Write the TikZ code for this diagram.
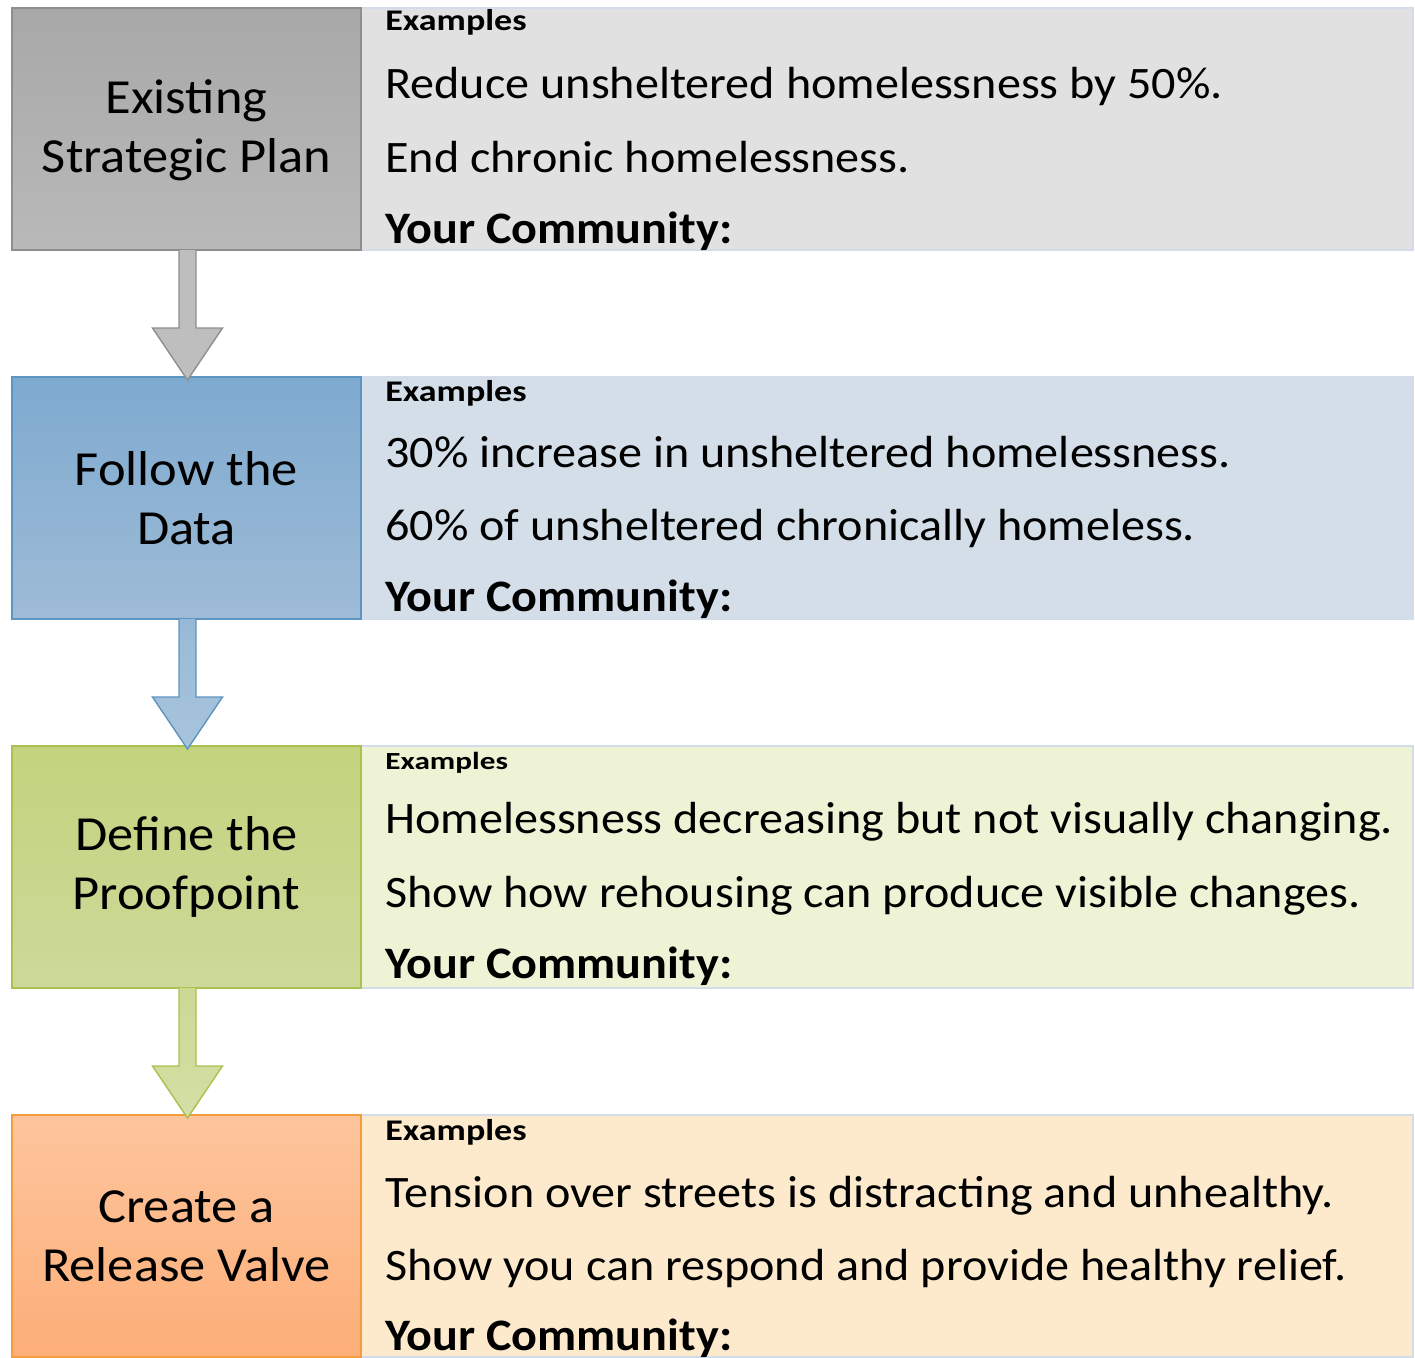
\documentclass[tikz,border=0pt]{standalone}
\usepackage{fontspec}
\setmainfont{Carlito}[FakeStretch=1.07]
\newfontfamily\exfont{Carlito}[FakeStretch=1.2]
\newfontfamily\exfontwide{Carlito}[FakeStretch=1.27]
\usetikzlibrary{calc}

% step colours
\definecolor{grayTop}{HTML}{A8A8A8}
\definecolor{grayBot}{HTML}{B9B9B9}
\definecolor{grayLine}{HTML}{8E8E8E}
\definecolor{grayArrow}{HTML}{BEBEBE}
\definecolor{grayPanel}{HTML}{E1E1E1}
\definecolor{blueTop}{HTML}{7EAACF}
\definecolor{blueBot}{HTML}{9EBBD7}
\definecolor{blueLine}{HTML}{5C95C2}
\definecolor{blueArrowTop}{HTML}{98B9D6}
\definecolor{blueArrowBot}{HTML}{A8C4DD}
\definecolor{bluePanel}{HTML}{D3DEE8}
\definecolor{greenTop}{HTML}{C3D37D}
\definecolor{greenBot}{HTML}{CDD99A}
\definecolor{greenLine}{HTML}{A9C14E}
\definecolor{greenArrowTop}{HTML}{CCD994}
\definecolor{greenArrowBot}{HTML}{D3DFA5}
\definecolor{greenPanel}{HTML}{EFF3D5}
\definecolor{orangeTop}{HTML}{FEC59D}
\definecolor{orangeBot}{HTML}{FCAE78}
\definecolor{orangeLine}{HTML}{F59D3E}
\definecolor{orangePanel}{HTML}{FDEACD}
\definecolor{panelLine}{HTML}{D3DCE8}

\tikzset{
  stepbox/.style={anchor=north west, inner sep=0pt, outer sep=0pt,
    minimum width=174.5pt, minimum height=121pt, line width=0.7pt, draw},
  panel/.style={anchor=north west, inner sep=0pt, outer sep=0pt,
    minimum width=526pt, minimum height=121pt, line width=0.9pt, draw=panelLine},
  steplabel/.style={align=center, inner sep=0pt,
    font=\fontsize{24.5}{29.5}\selectfont},
  exhead/.style={anchor=base west, inner sep=0pt,
    font=\exfont\bfseries\fontsize{15}{18}\selectfont},
  exheadsmall/.style={anchor=base west, inner sep=0pt,
    font=\exfontwide\bfseries\fontsize{12.3}{15}\selectfont},
  exline/.style={anchor=base west, inner sep=0pt,
    font=\fontsize{22.5}{27}\selectfont},
  yourline/.style={anchor=base west, inner sep=0pt,
    font=\bfseries\fontsize{22.5}{27}\selectfont},
  flow/.style={line width=0.7pt, line join=miter},
}

\begin{document}
\begin{tikzpicture}[x=0.5pt, y=-0.5pt]
\useasboundingbox (0,0) rectangle (1415,1357);

% ---- row 1 ----
\node[panel, fill=grayPanel] (R1) at (361,8) {};
\node[stepbox, draw=grayLine, top color=grayTop, bottom color=grayBot] (L1) at (12,8) {};
\node[steplabel] (T1) at ($(L1.center)+(0,1)$) {Existing\\Strategic Plan};
\node[exhead] (E1) at (385,30) {Examples};
\node[exline] (A1) at (385,98) {Reduce unsheltered homelessness by 50\%.};
\node[exline] (B1) at (385,172) {End chronic homelessness.};
\node[yourline] (C1) at (385,243) {Your Community:};

% ---- row 2 ----
\node[panel, fill=bluePanel] (R2) at (361,377) {};
\node[stepbox, draw=blueLine, top color=blueTop, bottom color=blueBot] (L2) at (12,377) {};
\node[steplabel] (T2) at ($(L2.center)+(0,0)$) {Follow the\\Data};
\node[exhead] (E2) at (385,401) {Examples};
\node[exline] (A2) at (385,467) {30\% increase in unsheltered homelessness.};
\node[exline] (B2) at (385,540) {60\% of unsheltered chronically homeless.};
\node[yourline] (C2) at (385,611) {Your Community:};

% ---- row 3 ----
\node[panel, fill=greenPanel] (R3) at (361,746) {};
\node[stepbox, draw=greenLine, top color=greenTop, bottom color=greenBot] (L3) at (12,746) {};
\node[steplabel] (T3) at ($(L3.center)+(0,0)$) {Define the\\Proofpoint};
\node[exheadsmall] (E3) at (385,769) {Examples};
\node[exline] (A3) at (385,833) {Homelessness decreasing but not visually changing.};
\node[exline] (B3) at (385,907) {Show how rehousing can produce visible changes.};
\node[yourline] (C3) at (385,978) {Your Community:};

% ---- row 4 ----
\node[panel, fill=orangePanel] (R4) at (361,1115) {};
\node[stepbox, draw=orangeLine, top color=orangeTop, bottom color=orangeBot] (L4) at (12,1115) {};
\node[steplabel] (T4) at ($(L4.center)+(0,0)$) {Create a\\Release Valve};
\node[exhead] (E4) at (385,1140) {Examples};
\node[exline] (A4) at (385,1207) {Tension over streets is distracting and unhealthy.};
\node[exline] (B4) at (385,1280) {Show you can respond and provide healthy relief.};
\node[yourline] (C4) at (385,1350) {Your Community:};

% ---- block arrows between the steps ----
\draw[flow, draw=grayLine, fill=grayArrow]
  ($(L1.south)+(-7.5,0)$) -- ($(L1.south)+(-7.5,78)$) -- ($(L1.south)+(-34,78)$)
  -- ($(L2.north)+(1,3)$)
  -- ($(L1.south)+(36,78)$) -- ($(L1.south)+(9.5,78)$) -- ($(L1.south)+(9.5,0)$);
\draw[flow, draw=blueLine, top color=blueArrowTop, bottom color=blueArrowBot]
  ($(L2.south)+(-7.5,0)$) -- ($(L2.south)+(-7.5,78)$) -- ($(L2.south)+(-34,78)$)
  -- ($(L3.north)+(1,3)$)
  -- ($(L2.south)+(36,78)$) -- ($(L2.south)+(9.5,78)$) -- ($(L2.south)+(9.5,0)$);
\draw[flow, draw=greenLine, top color=greenArrowTop, bottom color=greenArrowBot]
  ($(L3.south)+(-7.5,0)$) -- ($(L3.south)+(-7.5,78)$) -- ($(L3.south)+(-34,78)$)
  -- ($(L4.north)+(1,3)$)
  -- ($(L3.south)+(36,78)$) -- ($(L3.south)+(9.5,78)$) -- ($(L3.south)+(9.5,0)$);
\end{tikzpicture}
\end{document}
